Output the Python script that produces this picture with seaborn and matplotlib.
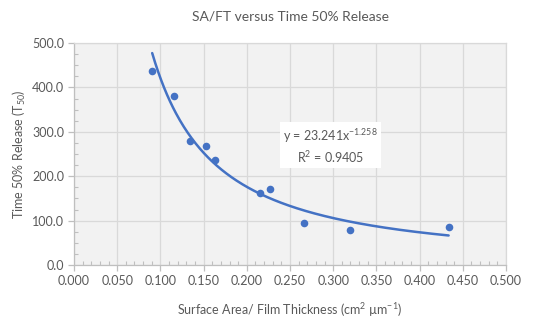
import numpy as np
import pandas as pd
import matplotlib
matplotlib.use("Agg")
import matplotlib.pyplot as plt
import seaborn as sns
from matplotlib.ticker import MultipleLocator, FormatStrFormatter

# Data
sa_ft = [0.0905, 0.1154, 0.1344, 0.1526, 0.1628, 0.2150, 0.2269, 0.2664, 0.3190, 0.4336]
t50 = [436.5, 379.7, 279.5, 269.0, 237.0, 162.0, 170.4, 95.0, 78.5, 84.5]

# Power trendline coefficients shown on the chart
fit_a = 23.241
fit_b = -1.258
fit_r2 = 0.9405

title = "SA/FT versus Time 50% Release"
xlabel = r"Surface Area/ Film Thickness (cm$\mathregular{^{2}}$ µm$\mathregular{^{-1}}$)"
ylabel = r"Time 50% Release ($\mathregular{T_{50}}$)"

sns.set_style("white")
plt.rcParams['font.family'] = ['Lato', 'DejaVu Sans']
plt.rcParams['mathtext.fontset'] = 'custom'
plt.rcParams['mathtext.rm'] = 'Lato'
plt.rcParams['mathtext.it'] = 'Lato:italic'
plt.rcParams['mathtext.bf'] = 'Lato:bold'

blue = "#4472C4"
txt = "#595959"
grid = "#d9d9d9"

df = pd.DataFrame({"x": sa_ft, "y": t50})
xs = np.linspace(min(sa_ft), max(sa_ft), 300)
trend = pd.DataFrame({"x": xs, "y": fit_a * xs ** fit_b})

fig = plt.figure(figsize=(5.34, 3.22), dpi=100)
ax = fig.add_axes([74 / 534, (322 - 265) / 322, (506 - 74) / 534, (265 - 43) / 322])
ax.set_facecolor("#f2f2f2")

sns.lineplot(data=trend, x="x", y="y", ax=ax, color=blue, linewidth=1.8, zorder=3)
sns.scatterplot(data=df, x="x", y="y", ax=ax, color=blue, s=30, edgecolor=blue, linewidth=0, zorder=4)

ax.set_xlim(0, 0.5)
ax.set_ylim(0, 500)
ax.xaxis.set_major_locator(MultipleLocator(0.05))
ax.xaxis.set_minor_locator(MultipleLocator(0.01))
ax.yaxis.set_major_locator(MultipleLocator(100))
ax.yaxis.set_minor_locator(MultipleLocator(25))
ax.xaxis.set_major_formatter(FormatStrFormatter("%.3f"))
ax.yaxis.set_major_formatter(FormatStrFormatter("%.1f"))

ax.grid(True, which="major", color=grid, linewidth=0.9, zorder=0)
ax.set_axisbelow(True)
ax.tick_params(axis="both", which="major", direction="out", length=4, width=0.9,
               color="#bfbfbf", labelcolor=txt, labelsize=9, pad=3, left=True, bottom=True)
ax.tick_params(axis="both", which="minor", direction="in", length=3, width=0.8,
               color="#bfbfbf", left=True, bottom=True)
for side in ["left", "bottom"]:
    ax.spines[side].set_color("#bfbfbf")
    ax.spines[side].set_linewidth(0.9)
for side in ["top", "right"]:
    ax.spines[side].set_color(grid)
    ax.spines[side].set_linewidth(0.9)

ax.set_xlabel(xlabel, color=txt, fontsize=9, labelpad=10)
ax.set_ylabel(ylabel, color=txt, fontsize=9, labelpad=3)
ax.set_title(title, color=txt, fontsize=10, pad=16)

eq = r"y = 23.241x$\mathregular{^{%s}}$" % ("{:.3f}".format(fit_b))
r2 = r"R$\mathregular{^{2}}$ = %.4f" % fit_r2
ax.text(0.297, 268, eq + "\n" + r2, ha="center", va="center", fontsize=9, color=txt,
        linespacing=1.3, zorder=5,
        bbox=dict(boxstyle="square,pad=0.25", facecolor="white", edgecolor="none"))

fig.savefig("out.png", dpi=100)
